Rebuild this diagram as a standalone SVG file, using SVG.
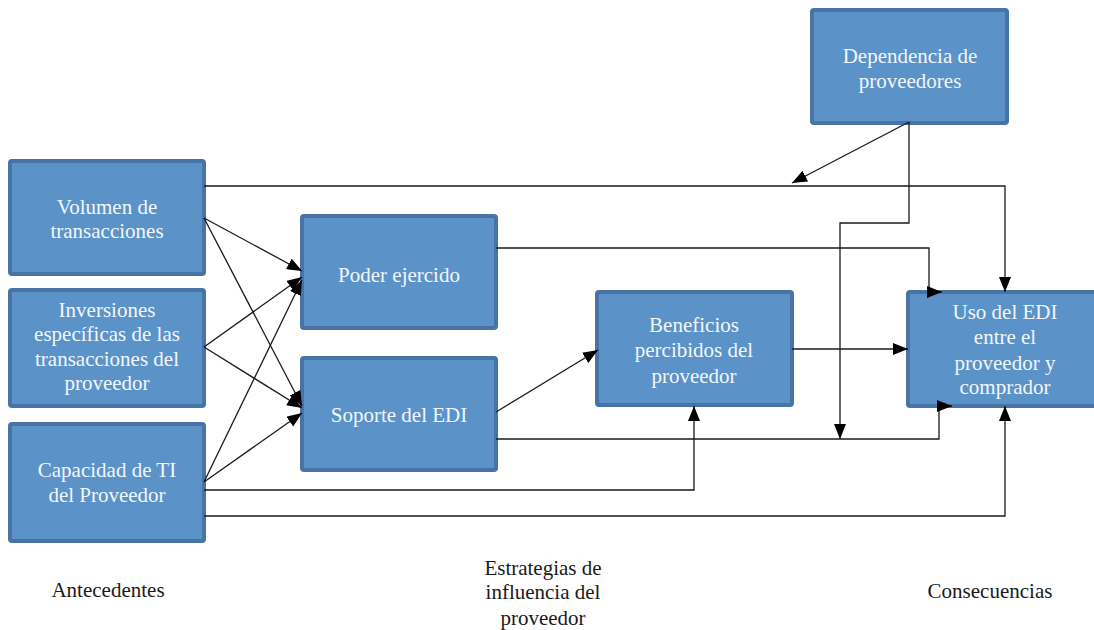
<svg xmlns="http://www.w3.org/2000/svg" width="1094" height="630" viewBox="0 0 1094 630">
  <style>
    .box { fill: #5b93c8; stroke: #4873a6; stroke-width: 4; }
    .lbl { font-family: "Liberation Serif", "Times New Roman", serif; font-size: 21px; fill: #f2f6fb; text-anchor: middle; }
    .cap { font-family: "Liberation Serif", "Times New Roman", serif; font-size: 21px; fill: #1a1a1a; text-anchor: middle; }
    .wire { fill: none; stroke: #1a1a1a; stroke-width: 1.3; }
  </style>
  <defs>
    <marker id="arrow" markerUnits="userSpaceOnUse" markerWidth="15" markerHeight="12" refX="15" refY="6" orient="auto">
      <path d="M0,0 L15,6 L0,12 z" fill="#000"/>
    </marker>
  </defs>
  <rect width="1094" height="630" fill="#ffffff"/>

  <g id="volumen">
    <rect class="box" x="10" y="161" width="194" height="113" rx="2"/>
    <text class="lbl" x="107" y="214">Volumen de</text>
    <text class="lbl" x="107" y="238">transacciones</text>
  </g>
  <g id="inversiones">
    <rect class="box" x="10" y="290" width="194" height="116" rx="2"/>
    <text class="lbl" x="107" y="317">Inversiones</text>
    <text class="lbl" x="107" y="341">específicas de las</text>
    <text class="lbl" x="107" y="366">transacciones del</text>
    <text class="lbl" x="107" y="390">proveedor</text>
  </g>
  <g id="capacidad">
    <rect class="box" x="10" y="424" width="194" height="117" rx="2"/>
    <text class="lbl" x="107" y="477">Capacidad de TI</text>
    <text class="lbl" x="107" y="502">del Proveedor</text>
  </g>
  <g id="poder">
    <rect class="box" x="302" y="216" width="194" height="112" rx="2"/>
    <text class="lbl" x="399" y="282">Poder ejercido</text>
  </g>
  <g id="soporte">
    <rect class="box" x="302" y="358" width="194" height="112" rx="2"/>
    <text class="lbl" x="399" y="422">Soporte del EDI</text>
  </g>
  <g id="beneficios">
    <rect class="box" x="597" y="292" width="195" height="113" rx="2"/>
    <text class="lbl" x="694" y="332">Beneficios</text>
    <text class="lbl" x="694" y="357">percibidos del</text>
    <text class="lbl" x="694" y="383">proveedor</text>
  </g>
  <g id="uso">
    <rect class="box" x="908" y="292" width="194" height="114" rx="2"/>
    <text class="lbl" x="1005" y="319">Uso del EDI</text>
    <text class="lbl" x="1005" y="344">entre el</text>
    <text class="lbl" x="1005" y="370">proveedor y</text>
    <text class="lbl" x="1005" y="394">comprador</text>
  </g>
  <g id="dependencia">
    <rect class="box" x="812" y="10" width="195" height="113" rx="2"/>
    <text class="lbl" x="910" y="63">Dependencia de</text>
    <text class="lbl" x="910" y="88">proveedores</text>
  </g>

  <!-- connectors, drawn over the box borders -->
  <g id="connectors" class="wire">
    <path d="M204,186 H1005 V292" marker-end="url(#arrow)"/>
    <path d="M909,122 L792,183" marker-end="url(#arrow)"/>
    <path d="M909,122 V223 H840 V439" marker-end="url(#arrow)"/>
    <path d="M496,248 H929 V292 H942" marker-end="url(#arrow)"/>
    <path d="M496,439 H939 V406 H952" marker-end="url(#arrow)"/>
    <path d="M792,349 H908" marker-end="url(#arrow)"/>
    <path d="M204,490 H694 V406" marker-end="url(#arrow)"/>
    <path d="M204,516 H1005 V406" marker-end="url(#arrow)"/>
    <path d="M496,412 L598,350" marker-end="url(#arrow)"/>
    <path d="M204,218 L302,271" marker-end="url(#arrow)"/>
    <path d="M204,218 L302,406" marker-end="url(#arrow)"/>
    <path d="M204,347 L302,277" marker-end="url(#arrow)"/>
    <path d="M204,347 L302,408" marker-end="url(#arrow)"/>
    <path d="M204,482 L302,280" marker-end="url(#arrow)"/>
    <path d="M204,482 L302,413" marker-end="url(#arrow)"/>
  </g>

  <!-- column captions -->
  <g id="antecedentes">
    <text class="cap" x="108" y="597">Antecedentes</text>
  </g>
  <g id="estrategias">
    <text class="cap" x="543" y="575">Estrategias de</text>
    <text class="cap" x="543" y="599">influencia del</text>
    <text class="cap" x="543" y="625">proveedor</text>
  </g>
  <g id="consecuencias">
    <text class="cap" x="990" y="598">Consecuencias</text>
  </g>
</svg>
